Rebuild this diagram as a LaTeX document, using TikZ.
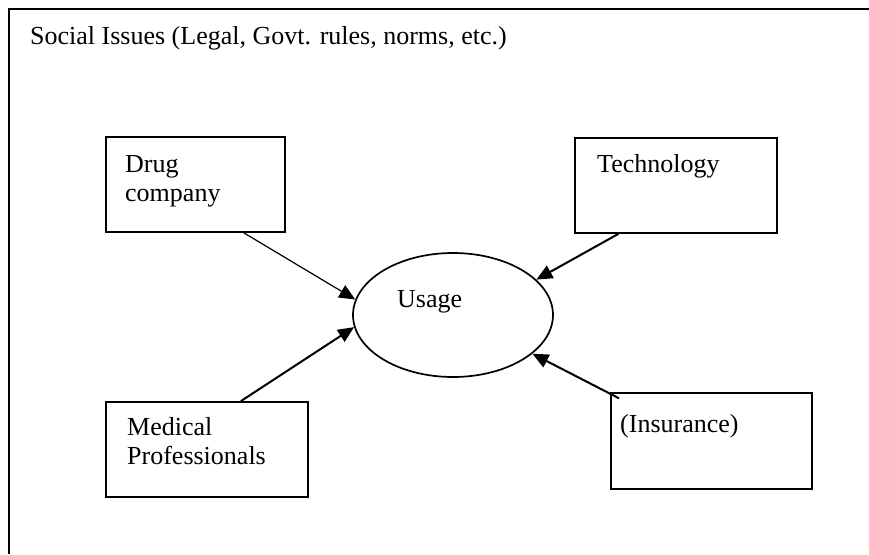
\documentclass[tikz,border=0pt]{standalone}
\usepackage{fontspec}
\setmainfont{Liberation Serif}
\usetikzlibrary{arrows.meta,shapes.geometric}

\begin{document}
\begin{tikzpicture}[x=1pt,y=-1pt,
		box/.style={draw,line width=1.8pt,rectangle,inner sep=0pt},
		usagebox/.style={draw,line width=1.7pt,ellipse,inner sep=0pt,minimum width=200pt,minimum height=124pt},
		txt/.style={font=\fontsize{26}{29.5}\selectfont,inner sep=0pt,align=left,anchor=base west},
		arr/.style={line width=2pt,-{Triangle[length=16pt,width=14pt]}}]
		\useasboundingbox (0,0) rectangle (869,554);
		\draw[line width=1.8pt] (9,554) -- (9,9) -- (869,9);
		\node[txt] (title) at (30,44.5) {Social Issues (Legal, Govt. rules, norms, etc.)};
		
		\node[box,minimum width=179pt,minimum height=95pt] (drug) at (195.5,184.5) {};
		\node[txt] (drugtxt) at (125,201.5) {Drug\\company};
		
		\node[box,minimum width=202pt,minimum height=95pt] (tech) at (676,185.5) {};
		\node[txt] (techtxt) at (597,172) {Technology};
		
		\node[box,minimum width=202pt,minimum height=95pt] (med) at (207,449.5) {};
		\node[txt] (medtxt) at (127,464.5) {Medical\\Professionals};
		
		\node[box,minimum width=201pt,minimum height=96pt] (ins) at (711.5,441) {};
		\node[txt] (instxt) at (620,432) {(Insurance)};
		
		\node[usagebox] (usage) at (453,315) {};
		\node[txt] (usagetxt) at (397,307) {Usage};
		
		\draw[arr,line width=1.2pt] (drug.-45.6) -- (usage.171.7);
		\draw[arr] (med.55.2) -- (usage.187.9);
		\draw[arr] (tech.220.3) -- (usage.23.9);
		\draw[arr,shorten <=-10pt] (ins.155.9) -- (usage.-26.3);
\end{tikzpicture}
\end{document}
